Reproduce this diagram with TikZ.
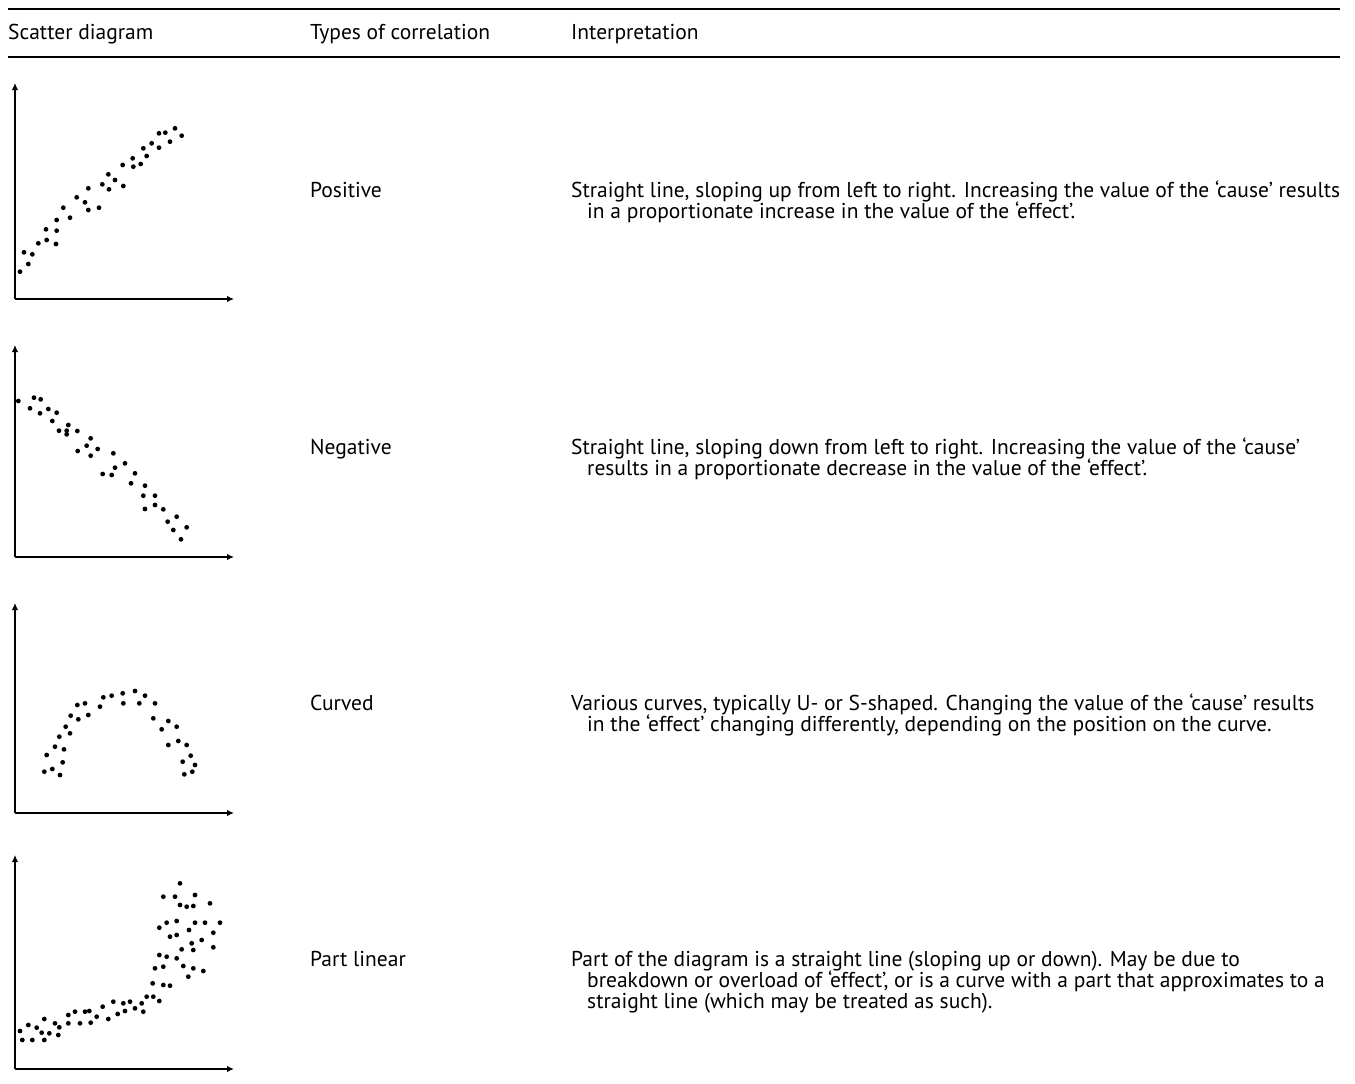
\documentclass[tikz,border=0pt]{standalone}
\usepackage{fontspec}
\setmainfont{PT Sans}
\usetikzlibrary{arrows.meta}
\begin{document}
\begin{tikzpicture}[x=1pt,y=-1pt,
  txt/.style={anchor=base west,inner sep=0pt,font=\fontsize{21.5}{24}\selectfont},
  rule/.style={line width=2.2pt},
  axis/.style={line width=2.4pt,-{Latex[length=7pt,width=6.5pt]}},
  dot/.style={fill=black}]
\useasboundingbox (0,0) rectangle (1355,1084);
% rules
\coordinate (r1a) at (8,9); \coordinate (r1b) at (1340,9);
\coordinate (r2a) at (8,57); \coordinate (r2b) at (1340,57);
\draw[rule] (r1a) -- (r1b);
\draw[rule] (r2a) -- (r2b);
% header
\node[txt] (h1) at (8,39) {Scatter diagram};
\node[txt] (h2) at (310,39) {Types of correlation};
\node[txt] (h3) at (571,39) {Interpretation};
% row labels
\node[txt] (l1) at (310,197) {Positive};
\node[txt] (l2) at (310,454) {Negative};
\node[txt] (l3) at (310,710) {Curved};
\node[txt] (l4) at (310,966) {Part linear};
% interpretations
\node[txt] (p1a) at (571,197) {Straight line, sloping up from left to right. Increasing the value of the ‘cause’ results};
\node[txt] (p1b) at (587,218) {in a proportionate increase in the value of the ‘effect’.};
\node[txt] (p2a) at (571,454) {Straight line, sloping down from left to right. Increasing the value of the ‘cause’};
\node[txt] (p2b) at (587,475) {results in a proportionate decrease in the value of the ‘effect’.};
\node[txt] (p3a) at (571,710) {Various curves, typically U- or S-shaped. Changing the value of the ‘cause’ results};
\node[txt] (p3b) at (587,731) {in the ‘effect’ changing differently, depending on the position on the curve.};
\node[txt] (p4a) at (571,966) {Part of the diagram is a straight line (sloping up or down). May be due to};
\node[txt] (p4b) at (587,987) {breakdown or overload of ‘effect’, or is a curve with a part that approximates to a};
\node[txt] (p4c) at (587,1008) {straight line (which may be treated as such).};
% axes
\foreach \n/\oy/\ty in {1/299/83, 2/557/345, 3/813/603, 4/1069/855}{
  \coordinate (o\n) at (15,\oy);
  \coordinate (ya\n) at (15,\ty);
  \coordinate (xa\n) at (234,\oy);
  \draw[axis] (o\n) -- (ya\n);
  \draw[axis] (o\n) -- (xa\n);
}
% positive
\foreach \x/\y in {60/605,85/582,72/547,97/553,115/520,140/510,168/522,138/478,170/482,170/450,190/413,210/443,230/382,255/397,265/420,265/355,297/413,307/343,325/313,345/330,327/358,370/348,368/285,400/290,398/265,422/282,440/258,430/235,455/220,477/233,477/190,496/188,510/215,525/175,545/197}
  \fill[dot] ({\x/3},{70+\y/3}) circle[radius=2.4pt];
% negative
\foreach \x/\y in {55/183,102/173,122/178,90/205,120/220,145/207,170/218,157/243,177/272,200/272,205/255,200/283,232/273,272/295,260/317,293/327,233/333,272/347,340/340,345/383,375/370,308/402,335/405,405/400,393/430,435/437,430/467,465/467,465/495,435/507,490/508,530/530,503/545,560/562,520/570,543/598}
  \fill[dot] ({\x/3},{340+\y/3}) circle[radius=2.4pt];
% curved
\foreach \x/\y in {133/545,157/537,180/555,188/517,140/495,165/470,192/478,178/440,210/430,197/410,212/377,235/388,265/375,232/345,255/340,300/350,310/322,335/317,368/310,370/340,405/303,418/340,435/317,465/340,460/385,485/418,505/393,530/410,535/453,505/465,560/465,572/497,548/515,585/525,577/545,553/553}
  \fill[dot] ({\x/3},{590+\y/3}) circle[radius=2.4pt];
% part linear
\foreach \x/\y in {60/573,67/600,85/555,97/600,110/563,125/578,133/537,148/580,133/600,165/550,178/562,175/585,205/525,205/550,225/515,240/550,255/515,268/513,272/548,290/530,308/500,325/537,340/485,353/522,370/490,375/513,390/485,405/505,425/490,430/515,440/470,460/470,478/483,458/430,490/435,510/437,478/345,500/350,530/355,465/385,490/380,510/290,530/285,478/263,500/248,530/243,567/270,585/248,615/248,660/248,640/278,640/322,605/300,575/310,580/330,545/328,550/378,580/385,610/393,565/410,540/195,560/200,580/198,585/165,630/190,490/170,525/170,540/130}
  \fill[dot] ({\x/3},{840+\y/3}) circle[radius=2.4pt];
\end{tikzpicture}
\end{document}
